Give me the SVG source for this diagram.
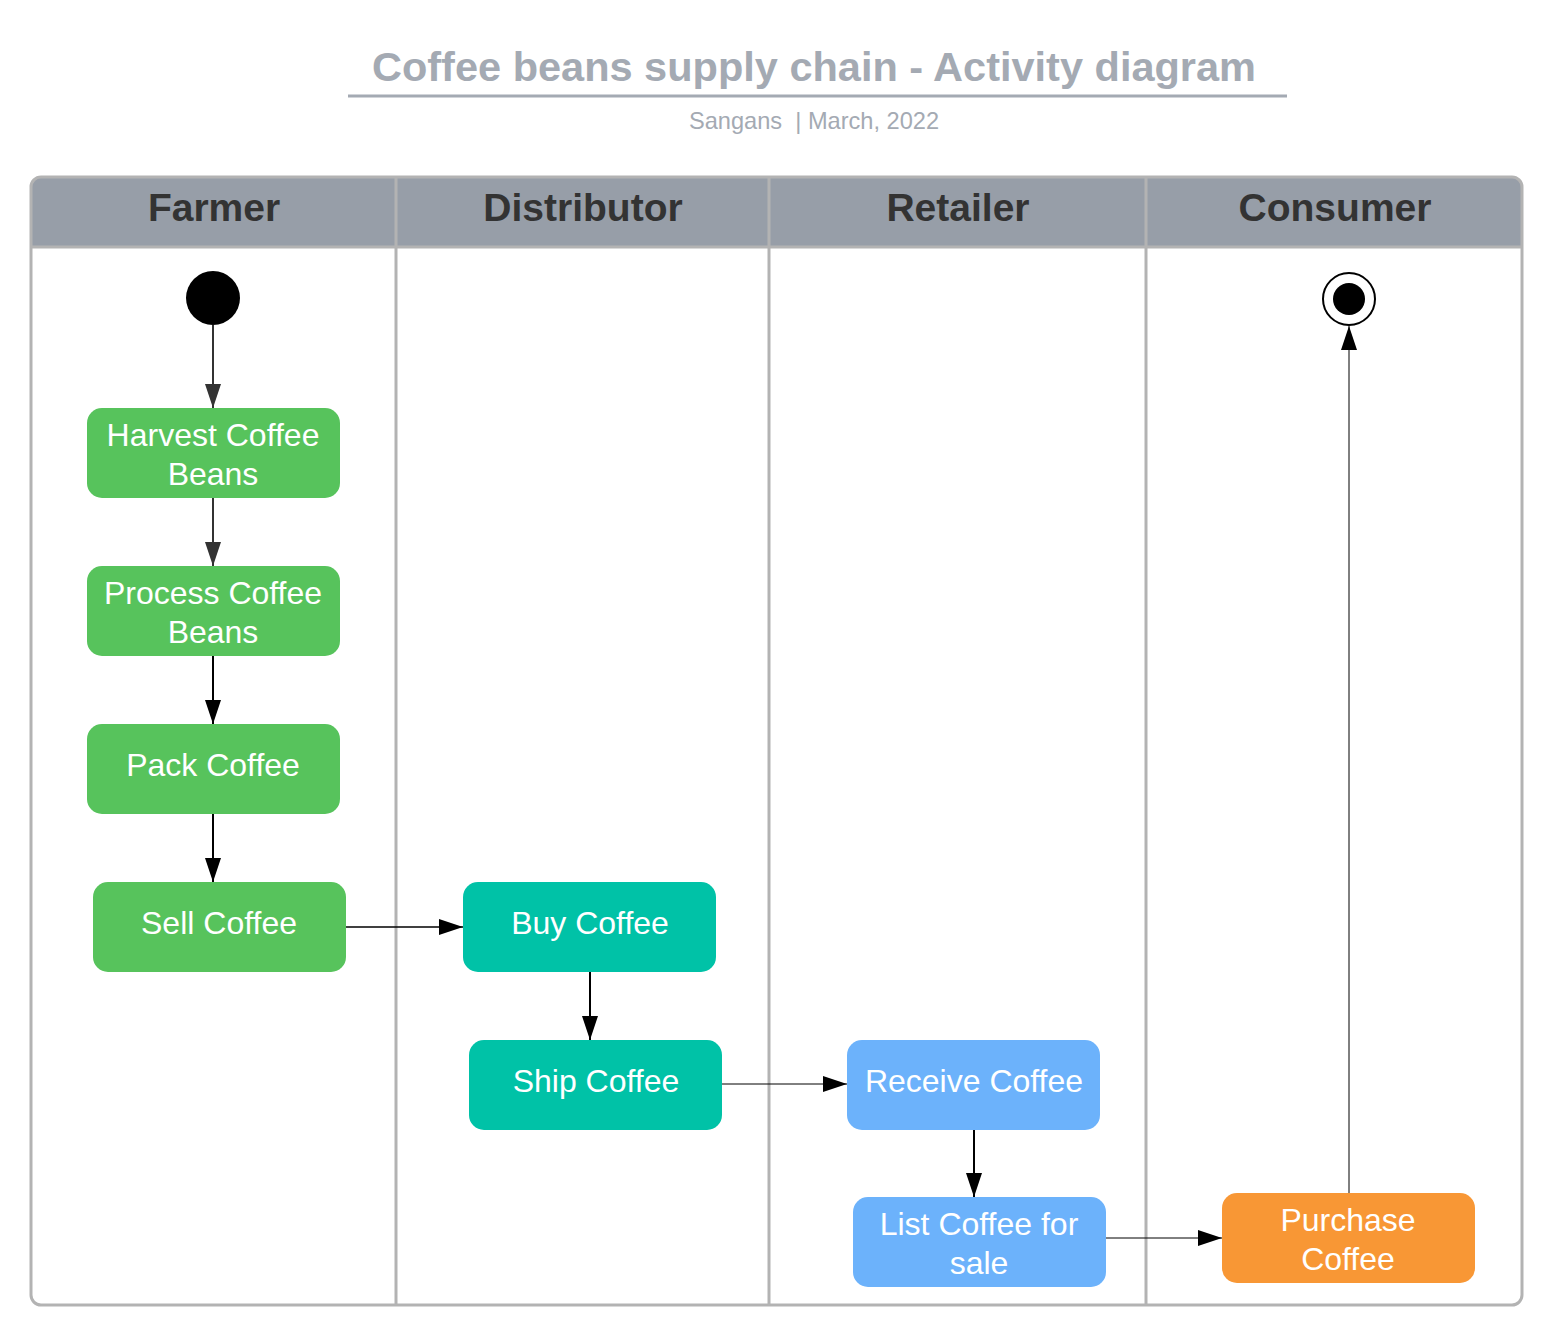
<svg xmlns="http://www.w3.org/2000/svg" width="1563" height="1344" viewBox="0 0 1563 1344">
<style>
.title{font-family:"Liberation Sans",Arial,sans-serif;font-weight:bold;font-size:41.5px;fill:#a4aab3;text-anchor:middle}
.sub{font-family:"Liberation Sans",Arial,sans-serif;font-size:23.6px;fill:#a4aab3;text-anchor:middle;white-space:pre}
.lane{font-family:"Liberation Sans",Arial,sans-serif;font-weight:bold;font-size:39px;fill:#333333;text-anchor:middle}
.lbl{font-family:"Liberation Sans",Arial,sans-serif;font-size:32px;fill:#ffffff;text-anchor:middle}
.div{stroke:#b3b3b3;stroke-width:3;fill:none}
.g{fill:#57c35c}
.t{fill:#00c2a7}
.b{fill:#6cb2fb}
.o{fill:#f89735}
.c{fill:none;stroke:#000;}
</style>
<defs>
<marker id="ad" markerUnits="userSpaceOnUse" markerWidth="26" markerHeight="18" refX="24" refY="8" orient="auto">
<path d="M0,0 L24,8 L0,16 Z" fill="#333333"/>
</marker>
<marker id="ak" markerUnits="userSpaceOnUse" markerWidth="26" markerHeight="18" refX="24" refY="8" orient="auto">
<path d="M0,0 L24,8 L0,16 Z" fill="#000000"/>
</marker>
</defs>
<rect width="1563" height="1344" fill="#ffffff"/>
<g id="title">
<text class="title" x="814" y="81">Coffee beans supply chain - Activity diagram</text>
<line x1="348" y1="96" x2="1287" y2="96" stroke="#a4aab3" stroke-width="3"/>
<text class="sub" x="814" y="129" xml:space="preserve">Sangans  | March, 2022</text>
</g>
<g id="pool">
<path d="M31,247 L31,187 Q31,177 41,177 L1512,177 Q1522,177 1522,187 L1522,247 Z" fill="#979ea8"/>
<rect x="31" y="177" width="1491" height="1128" rx="10" class="div"/>
<line x1="31" y1="247" x2="1522" y2="247" class="div"/>
<line x1="396" y1="177" x2="396" y2="1305" class="div"/>
<line x1="769" y1="177" x2="769" y2="1305" class="div"/>
<line x1="1146" y1="177" x2="1146" y2="1305" class="div"/>
<text class="lane" x="214" y="221">Farmer</text>
<text class="lane" x="583" y="221">Distributor</text>
<text class="lane" x="958" y="221">Retailer</text>
<text class="lane" x="1335" y="221">Consumer</text>
</g>
<g id="start"><circle cx="213" cy="298" r="27" fill="#000"/></g>
<g id="end"><circle cx="1349" cy="299" r="26" fill="#fff" stroke="#000" stroke-width="2"/><circle cx="1349" cy="299" r="16" fill="#000"/></g>
<g id="harvest"><rect class="g" x="87" y="408" width="253" height="90" rx="15"/><text class="lbl" x="213" y="446">Harvest Coffee</text><text class="lbl" x="213" y="485">Beans</text></g>
<g id="process"><rect class="g" x="87" y="566" width="253" height="90" rx="15"/><text class="lbl" x="213" y="604">Process Coffee</text><text class="lbl" x="213" y="643">Beans</text></g>
<g id="pack"><rect class="g" x="87" y="724" width="253" height="90" rx="15"/><text class="lbl" x="213" y="776">Pack Coffee</text></g>
<g id="sell"><rect class="g" x="93" y="882" width="253" height="90" rx="15"/><text class="lbl" x="219" y="934">Sell Coffee</text></g>
<g id="buy"><rect class="t" x="463" y="882" width="253" height="90" rx="15"/><text class="lbl" x="590" y="934">Buy Coffee</text></g>
<g id="ship"><rect class="t" x="469" y="1040" width="253" height="90" rx="15"/><text class="lbl" x="596" y="1092">Ship Coffee</text></g>
<g id="receive"><rect class="b" x="847" y="1040" width="253" height="90" rx="15"/><text class="lbl" x="974" y="1092">Receive Coffee</text></g>
<g id="list"><rect class="b" x="853" y="1197" width="253" height="90" rx="15"/><text class="lbl" x="979" y="1235">List Coffee for</text><text class="lbl" x="979" y="1274">sale</text></g>
<g id="purchase"><rect class="o" x="1222" y="1193" width="253" height="90" rx="15"/><text class="lbl" x="1348" y="1231">Purchase</text><text class="lbl" x="1348" y="1270">Coffee</text></g>
<g id="connectors">
<line x1="213" y1="325" x2="213" y2="408" stroke="#333" stroke-width="2" marker-end="url(#ad)"/>
<line x1="213" y1="498" x2="213" y2="566" stroke="#333" stroke-width="2" marker-end="url(#ad)"/>
<line x1="213" y1="656" x2="213" y2="724" class="c" stroke-width="2" marker-end="url(#ak)"/>
<line x1="213" y1="814" x2="213" y2="882" class="c" stroke-width="2" marker-end="url(#ak)"/>
<line x1="346" y1="927" x2="463" y2="927" class="c" stroke-width="1.5" marker-end="url(#ak)"/>
<line x1="590" y1="972" x2="590" y2="1040" class="c" stroke-width="2" marker-end="url(#ak)"/>
<line x1="722" y1="1084" x2="847" y2="1084" class="c" stroke-width="1" marker-end="url(#ak)"/>
<line x1="974" y1="1130" x2="974" y2="1197" class="c" stroke-width="2" marker-end="url(#ak)"/>
<line x1="1106" y1="1238" x2="1222" y2="1238" class="c" stroke-width="1" marker-end="url(#ak)"/>
<line x1="1349" y1="1193" x2="1349" y2="326" class="c" stroke-width="1" marker-end="url(#ak)"/>
</g>
</svg>
